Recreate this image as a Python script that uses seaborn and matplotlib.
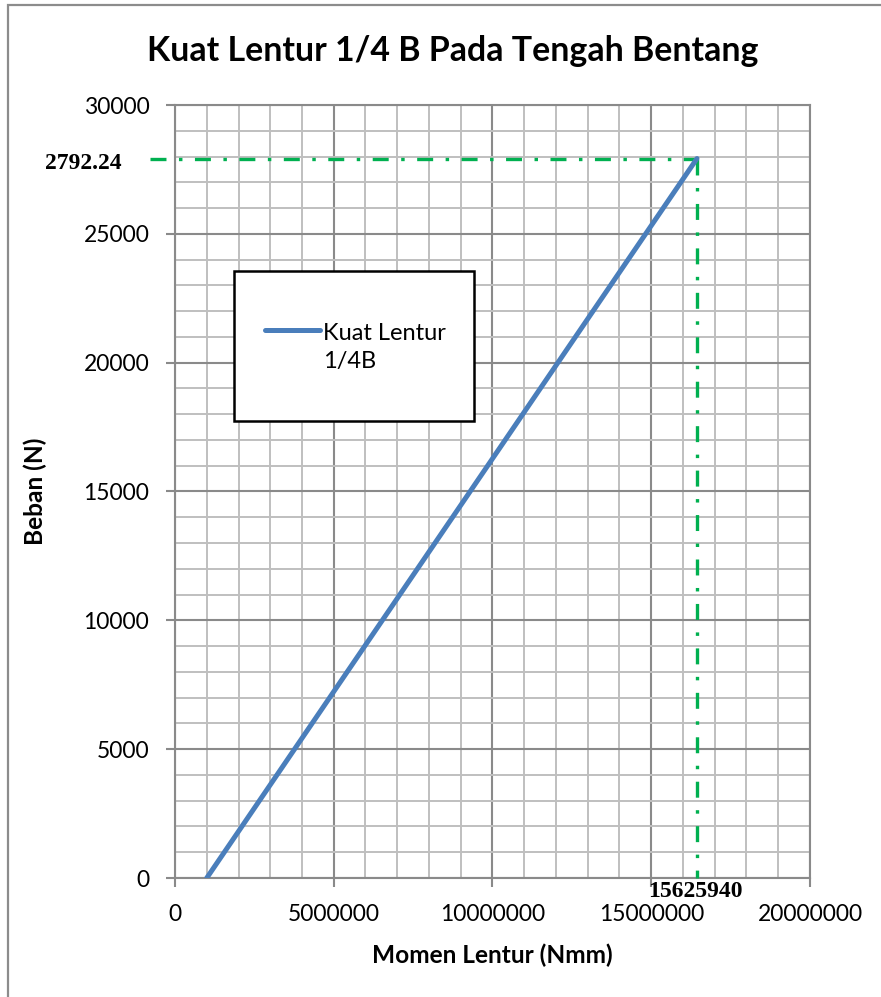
import matplotlib
matplotlib.use("Agg")
import matplotlib.pyplot as plt
import seaborn as sns
import pandas as pd
import numpy as np
from matplotlib.patches import Rectangle
from matplotlib.ticker import MultipleLocator

# ---- data ----
momen = [1000000, 16440000]          # Momen Lentur (Nmm)
beban = [0, 27922]                   # Beban (N)
series_label = "Kuat Lentur\n1/4B"
peak_x_label = "15625940"
peak_y_label = "2792.24"
title = "Kuat Lentur 1/4 B Pada Tengah Bentang"
xlabel = "Momen Lentur (Nmm)"
ylabel = "Beban (N)"
xticks = [0, 5000000, 10000000, 15000000, 20000000]
yticks = [0, 5000, 10000, 15000, 20000, 25000, 30000]

df = pd.DataFrame({"x": momen, "y": beban})

sns.set_style("white")
plt.rcParams["font.family"] = ["Lato", "DejaVu Sans"]
plt.rcParams["lines.scale_dashes"] = False
plt.rcParams["text.color"] = "black"
plt.rcParams["axes.labelcolor"] = "black"

W, H = 881, 997
fig = plt.figure(figsize=(W / 100, H / 100), dpi=100)
ax = fig.add_axes([175 / W, 1 - 878 / H, (810 - 175) / W, (878 - 105) / H])

# outer border
fig.patches.append(Rectangle((8 / W, -0.1), 1.2, 1 - 5 / H + 0.1, transform=fig.transFigure,
                             fill=False, edgecolor="#8c8c8c", linewidth=1.6, zorder=0))

ax.set_xlim(0, 20000000)
ax.set_ylim(0, 30000)
ax.xaxis.set_minor_locator(MultipleLocator(1000000))
ax.yaxis.set_minor_locator(MultipleLocator(1000))
ax.set_xticks(xticks)
ax.set_yticks(yticks)
ax.set_xticklabels([str(v) for v in xticks])
ax.set_yticklabels([str(v) for v in yticks])

ax.grid(which="minor", color="#bfbfbf", linewidth=1.4)
ax.grid(which="major", color="#8a8a8a", linewidth=1.5)
ax.set_axisbelow(True)
for s in ax.spines.values():
    s.set_color("#8a8a8a")
    s.set_linewidth(1.5)
ax.tick_params(which="major", direction="out", length=6.5, width=1.5, color="#8a8a8a",
               labelcolor="black", labelsize=16.5, pad=12, left=True, bottom=True)
ax.tick_params(which="minor", length=0)

sns.lineplot(data=df, x="x", y="y", ax=ax, color="#4a7ebb", linewidth=3.6,
             solid_capstyle="round", label=series_label, zorder=5)

# green dash-dot guide lines
xe, ye = momen[-1], beban[-1]
dash = (0, (11.5, 9, 2.5, 9))
ax.plot([-790000, xe], [ye, ye], color="#00b050", linewidth=2.4, linestyle=dash,
        dash_capstyle="butt", clip_on=False, zorder=4)
ax.plot([xe, xe], [ye, 0], color="#00b050", linewidth=2.4, linestyle=dash,
        dash_capstyle="butt", clip_on=False, zorder=4)

serif = ["Liberation Serif", "DejaVu Serif"]
ax.text(-2880000, 27746, peak_y_label, ha="center", va="center", fontsize=17,
        fontweight="bold", family=serif)
ax.text(16380000, -505, peak_x_label, ha="center", va="center", fontsize=17,
        fontweight="bold", family=serif)

fig.text(452.5 / W, 1 - 61 / H, title, ha="center", va="baseline", fontsize=24.4,
         fontweight="bold")
ax.set_xlabel(xlabel, fontsize=17.6, fontweight="bold", va="center")
ax.xaxis.set_label_coords(0.5, -(955 - 878) / 773)
ax.set_ylabel(ylabel, fontsize=17.6, fontweight="bold", va="center")
ax.yaxis.set_label_coords((35 - 175) / 635, 0.5)

# legend (box drawn as a patch, legend entry through matplotlib)
ax.add_patch(Rectangle(((234 - 175) / 635, (878 - 421) / 773), 240 / 635, 150 / 773,
                       transform=ax.transAxes, facecolor="white", edgecolor="black",
                       linewidth=1.8, zorder=6))
leg = ax.legend(loc="center left",
                bbox_to_anchor=((265 - 175) / 635, (878 - 347.5) / 773),
                fontsize=17, frameon=False, borderpad=0, borderaxespad=0,
                handlelength=2.33, handletextpad=0.12)
leg.set_zorder(7)
for t in leg.get_texts():
    t.set_linespacing(1.45)
for h in leg.legend_handles:
    h.set_linewidth(3.6)
    yd = np.asarray(h.get_ydata(), dtype=float)
    h.set_ydata(yd + 12.6)

fig.savefig("out.png", dpi=100, facecolor="white")
